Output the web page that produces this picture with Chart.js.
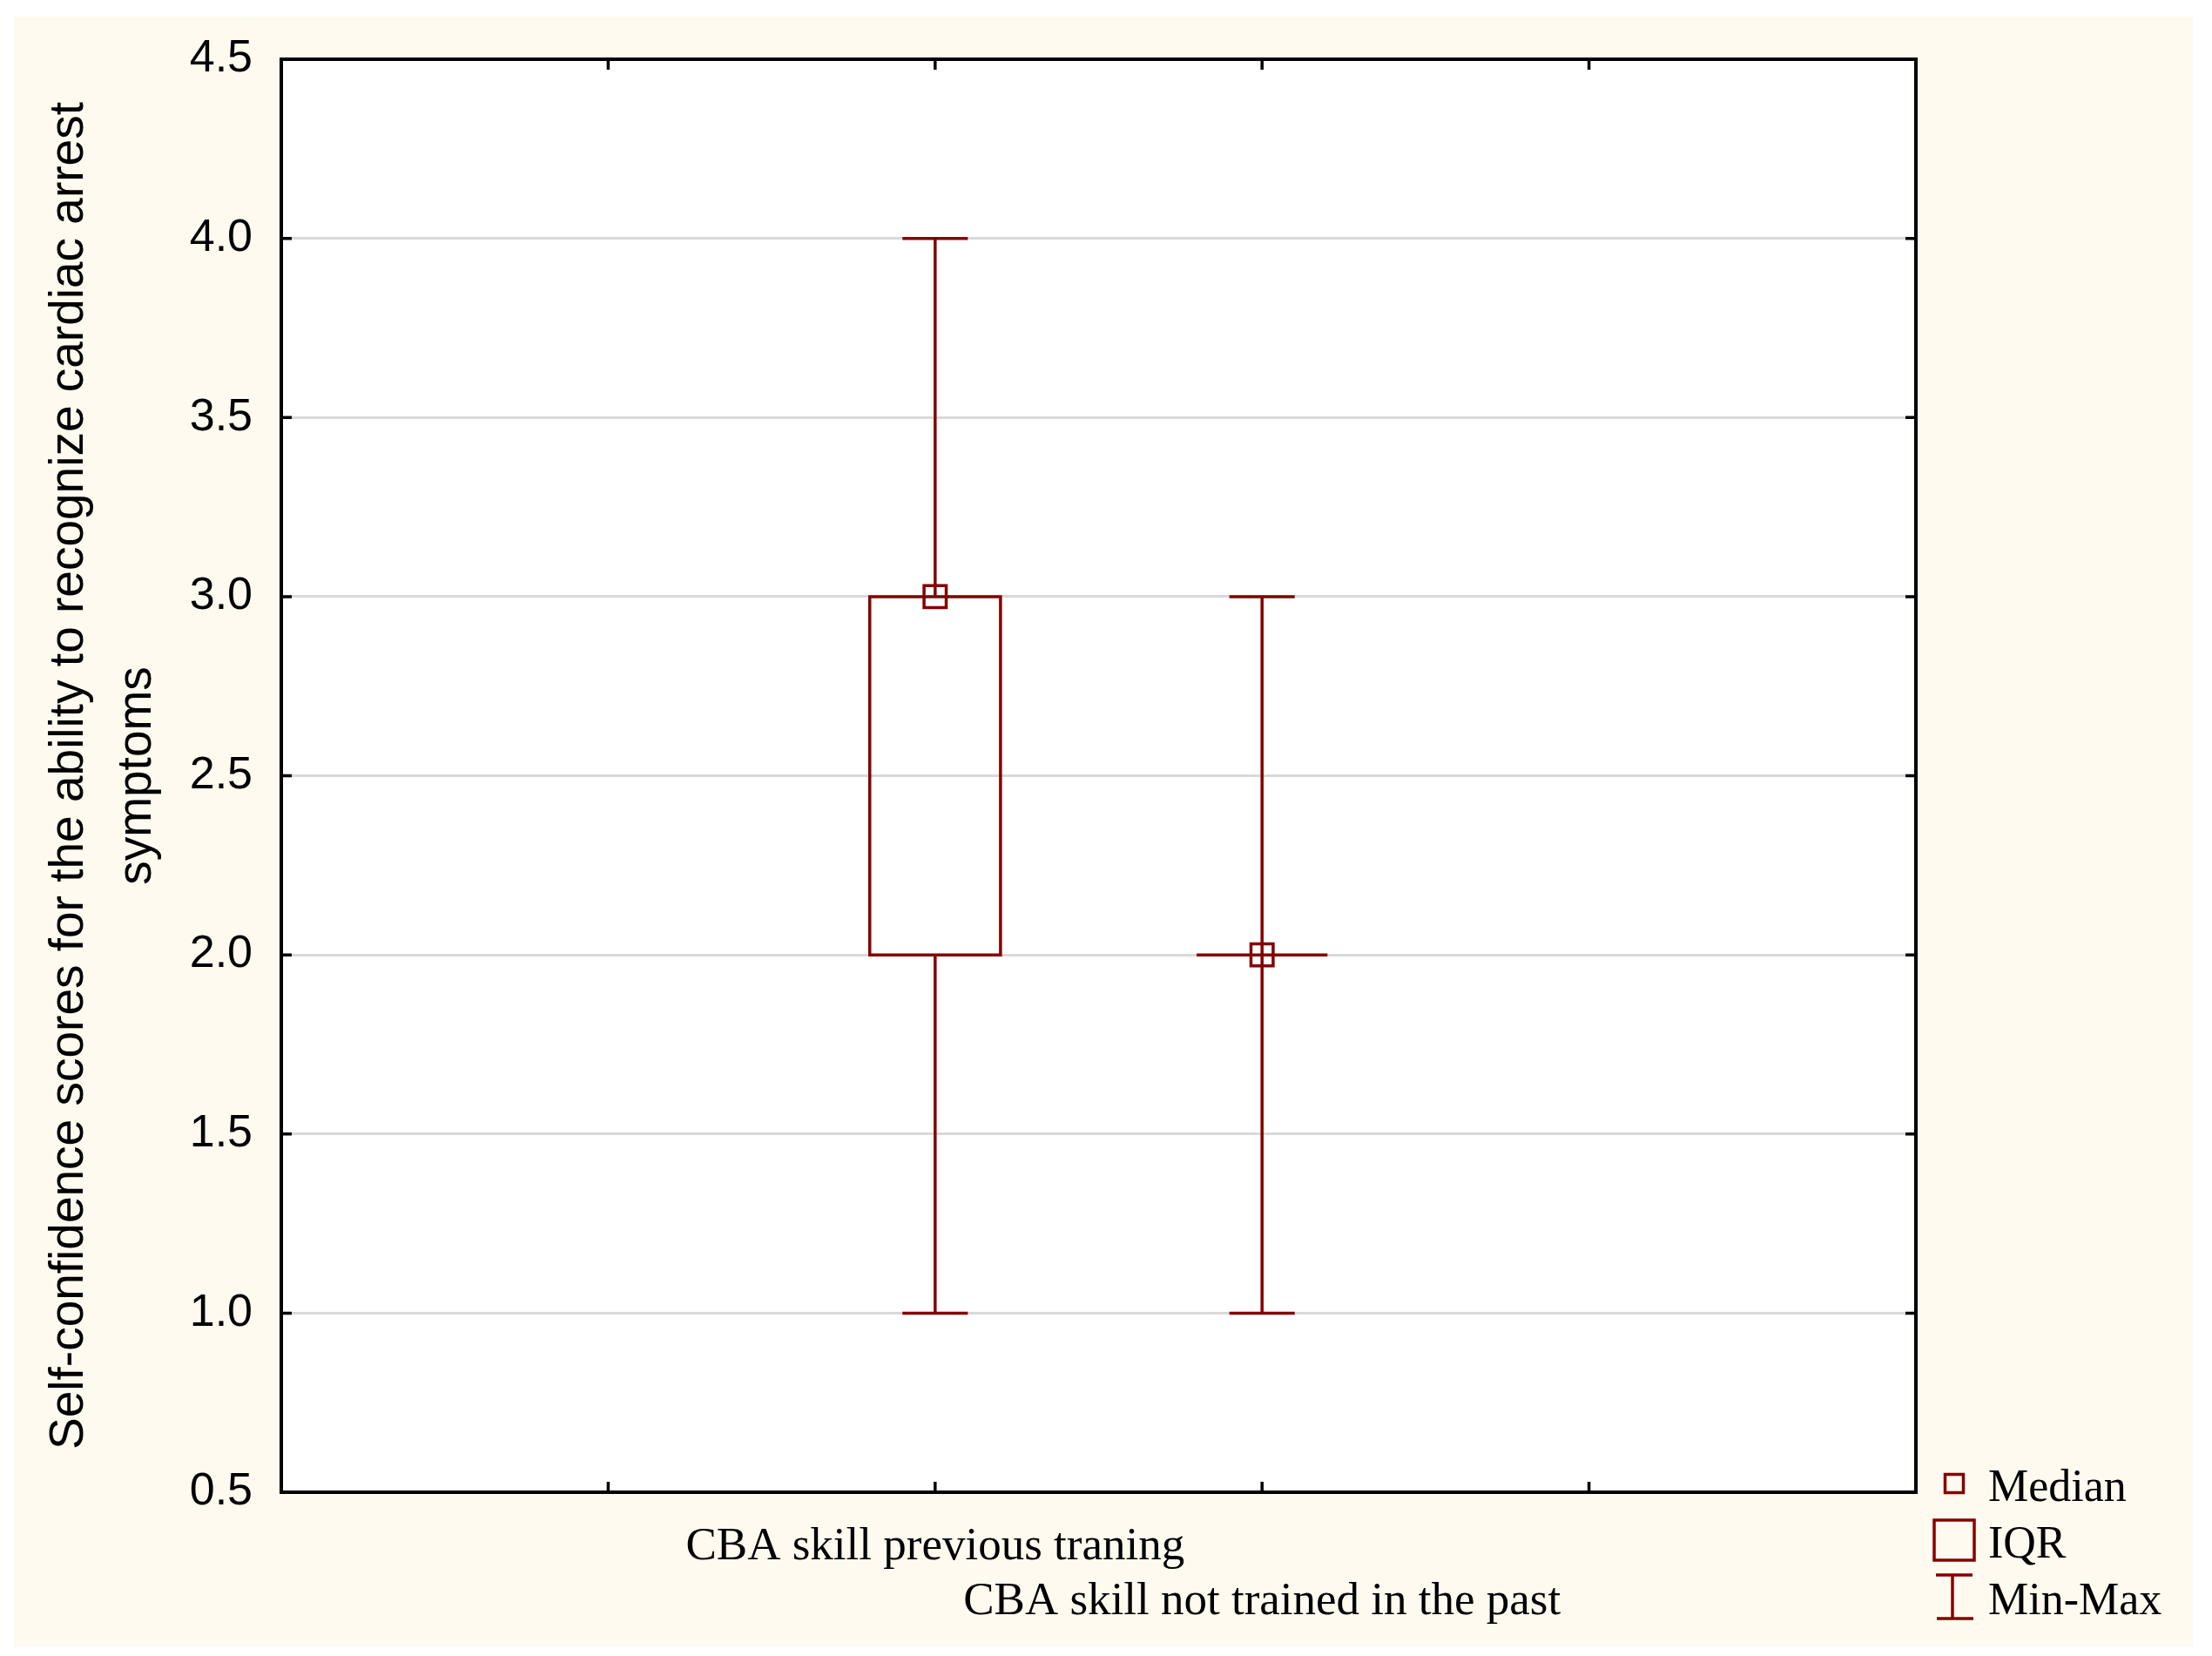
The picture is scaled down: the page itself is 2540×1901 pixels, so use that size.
<!DOCTYPE html>
<html>
<head>
<meta charset="utf-8">
<style>
  html, body { margin: 0; padding: 0; background: #ffffff; }
  canvas { display: block; }
</style>
<script src="https://cdn.jsdelivr.net/npm/chart.js@4.4.1/dist/chart.umd.min.js"></script>
</head>
<body>
<canvas id="chart" width="2540" height="1901"></canvas>
<script>
// ---- data ----
const categories = ['CBA skill previous traning', 'CBA skill not trained in the past'];
const minValues = [1.0, 1.0];
const q1Values = [2.0, 2.0];
const medianValues = [3.0, 2.0];
const q3Values = [3.0, 2.0];
const maxValues = [4.0, 3.0];
const yTickValues = [0.5, 1.0, 1.5, 2.0, 2.5, 3.0, 3.5, 4.0, 4.5];
const xTickValues = [1, 2, 3, 4];
const legendLabels = ['Median', 'IQR', 'Min-Max'];
const yTitleLines = ['Self-confidence scores for the ability to recognize cardiac arrest', 'symptoms'];

// ---- layout / style constants ----
const SLOT_COUNT = 5;
const FIRST_SLOT = 2;
const BOX_HALF = 0.2;
const CAP_HALF = 0.1;
const DARK_RED = '#840000';
const CREAM = '#fffaf0';

const boxPlugin = {
  id: 'boxWhisker',
  beforeDraw(chart) {
    const ctx = chart.ctx, a = chart.chartArea;
    ctx.save();
    ctx.fillStyle = '#ffffff';
    ctx.fillRect(0, 0, chart.width, chart.height);
    ctx.fillStyle = CREAM;
    ctx.fillRect(16, 19, 2502, 1872);
    ctx.fillStyle = '#ffffff';
    ctx.fillRect(a.left, a.top, a.right - a.left, a.bottom - a.top);
    ctx.restore();
  },
  afterDatasetsDraw(chart) {
    const ctx = chart.ctx, a = chart.chartArea;
    const x = chart.scales.x, y = chart.scales.y;
    ctx.save();
    // frame
    ctx.strokeStyle = '#000000';
    ctx.lineWidth = 4;
    ctx.strokeRect(a.left, a.top, a.right - a.left, a.bottom - a.top);
    // inward ticks
    ctx.lineWidth = 3.5;
    ctx.beginPath();
    yTickValues.forEach(v => {
      if (v === y.min || v === y.max) return;
      const py = y.getPixelForValue(v);
      ctx.moveTo(a.left, py); ctx.lineTo(a.left + 12, py);
      ctx.moveTo(a.right, py); ctx.lineTo(a.right - 12, py);
    });
    xTickValues.forEach(v => {
      const px = x.getPixelForValue(v);
      ctx.moveTo(px, a.bottom); ctx.lineTo(px, a.bottom - 12);
      ctx.moveTo(px, a.top); ctx.lineTo(px, a.top + 12);
    });
    ctx.stroke();

    // boxes and whiskers
    ctx.strokeStyle = DARK_RED;
    ctx.lineWidth = 3.5;
    categories.forEach((c, i) => {
      const pos = i + FIRST_SLOT;
      const cx = x.getPixelForValue(pos);
      const hb = x.getPixelForValue(pos + BOX_HALF) - cx;
      const hc = x.getPixelForValue(pos + CAP_HALF) - cx;
      const yMin = y.getPixelForValue(minValues[i]);
      const yQ1 = y.getPixelForValue(q1Values[i]);
      const yQ3 = y.getPixelForValue(q3Values[i]);
      const yMax = y.getPixelForValue(maxValues[i]);
      ctx.beginPath();
      if (q3Values[i] > q1Values[i]) {
        ctx.rect(cx - hb, yQ3, 2 * hb, yQ1 - yQ3);
      } else {
        ctx.moveTo(cx - hb, yQ1); ctx.lineTo(cx + hb, yQ1);
      }
      // whiskers
      ctx.moveTo(cx, yQ1); ctx.lineTo(cx, yMin);
      ctx.moveTo(cx, yQ3); ctx.lineTo(cx, yMax);
      // caps
      ctx.moveTo(cx - hc, yMin); ctx.lineTo(cx + hc, yMin);
      ctx.moveTo(cx - hc, yMax); ctx.lineTo(cx + hc, yMax);
      ctx.stroke();
    });
    ctx.restore();
  },
  afterDraw(chart) {
    const ctx = chart.ctx, a = chart.chartArea;
    ctx.save();
    const iconX = a.right + 44;
    const textX = a.right + 83;
    const rowY = [a.bottom - 10, a.bottom + 55, a.bottom + 120];
    ctx.strokeStyle = DARK_RED;
    ctx.lineWidth = 3.5;
    // Median icon
    ctx.strokeRect(iconX - 10.5, rowY[0] - 10.5, 21, 21);
    // IQR icon
    ctx.strokeRect(iconX - 23, rowY[1] - 23, 46, 46);
    // Min-Max icon
    ctx.beginPath();
    ctx.moveTo(iconX - 21, rowY[2] - 25); ctx.lineTo(iconX + 21, rowY[2] - 25);
    ctx.moveTo(iconX - 2, rowY[2] - 25); ctx.lineTo(iconX - 2, rowY[2] + 25);
    ctx.moveTo(iconX - 20, rowY[2] + 25); ctx.lineTo(iconX + 22, rowY[2] + 25);
    ctx.stroke();
    ctx.fillStyle = '#000000';
    ctx.font = '52px "Liberation Serif"';
    ctx.textAlign = 'left';
    ctx.textBaseline = 'middle';
    legendLabels.forEach((t, i) => ctx.fillText(t, textX, rowY[i] + 6));
    ctx.restore();
  }
};

new Chart(document.getElementById('chart'), {
  type: 'scatter',
  data: {
    datasets: [{
      label: legendLabels[0],
      data: categories.map((c, i) => ({ x: i + FIRST_SLOT, y: medianValues[i] })),
      pointStyle: 'rect',
      pointRadius: 18,
      pointHoverRadius: 18,
      pointBorderWidth: 3.5,
      borderColor: DARK_RED,
      backgroundColor: 'rgba(0,0,0,0)'
    }]
  },
  options: {
    responsive: false,
    animation: false,
    devicePixelRatio: 1,
    events: [],
    layout: { padding: { left: 0, top: 68, right: 340, bottom: 0 } },
    plugins: { legend: { display: false }, tooltip: { enabled: false } },
    scales: {
      x: {
        type: 'linear',
        position: 'bottom',
        min: 0,
        max: SLOT_COUNT,
        afterFit(s) { s.height = 188; },
        afterBuildTicks(s) { s.ticks = xTickValues.map(v => ({ value: v })); },
        grid: { display: false, drawTicks: false },
        border: { display: false },
        ticks: {
          autoSkip: false,
          maxRotation: 0,
          minRotation: 0,
          padding: 32,
          color: '#000000',
          font: { family: '"Liberation Serif"', size: 53, lineHeight: 63 / 53 },
          callback(v) {
            const i = v - FIRST_SLOT;
            if (i < 0 || i >= categories.length) return '';
            return i % 2 ? ['', categories[i]] : categories[i];
          }
        }
      },
      y: {
        type: 'linear',
        min: 0.5,
        max: 4.5,
        afterFit(s) { s.width = 323; },
        afterBuildTicks(s) { s.ticks = yTickValues.map(v => ({ value: v })); },
        grid: { color: '#d9d9d9', lineWidth: 3, drawTicks: false },
        border: { display: false },
        ticks: {
          padding: 33,
          color: '#000000',
          font: { family: '"Liberation Sans"', size: 52 },
          callback(v) { return Number(v).toFixed(1); }
        },
        title: {
          display: true,
          text: yTitleLines,
          color: '#000000',
          font: { family: '"Liberation Sans"', size: 55, lineHeight: 78 / 55 },
          padding: { top: 41, bottom: 0 }
        }
      }
    }
  },
  plugins: [boxPlugin]
});
</script>
</body>
</html>
